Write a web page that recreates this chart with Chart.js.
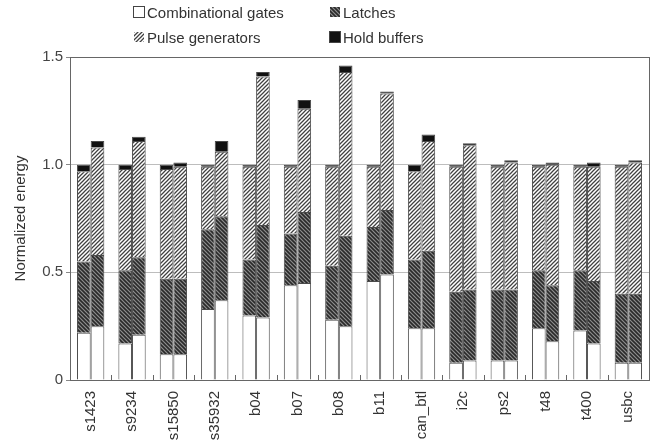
<!DOCTYPE html>
<html>
<head>
<meta charset="utf-8">
<script src="https://cdn.jsdelivr.net/npm/chart.js@4.4.1/dist/chart.umd.min.js"></script>
<style>
  body { margin: 0; background: #fff; }
  #wrap { position: relative; width: 670px; height: 445px; }
  #legend { position: absolute; left: 133px; top: 3px; width: 330px;
    display: grid; grid-template-columns: 196px 140px; row-gap: 7px;
    font-family: "Liberation Sans", Arial, sans-serif; font-size: 15px; color: #333; }
  #legend div { display: flex; align-items: center; height: 18px; }
  #legend span.sw { display: inline-block; width: 10px; height: 10px; border: 1px solid #444; margin-right: 2px; }
</style>
</head>
<body>
<div id="wrap">
  <canvas id="myChart" width="670" height="445"></canvas>
  <div id="legend"></div>
</div>
<script>
// benchmark circuits
const circuits = ['s1423', 's9234', 's15850', 's35932', 'b04', 'b07', 'b08', 'b11', 'can_btl', 'i2c', 'ps2', 't48', 't400', 'usbc'];

// left bar of each pair (segment heights)
const combLeft  = [0.22, 0.17, 0.12, 0.33, 0.30, 0.44, 0.28, 0.46, 0.24, 0.08, 0.09, 0.24, 0.23, 0.08];
const latchLeft = [0.33, 0.34, 0.35, 0.37, 0.26, 0.24, 0.25, 0.25, 0.32, 0.33, 0.33, 0.27, 0.28, 0.32];
const pulseLeft = [0.42, 0.47, 0.51, 0.29, 0.43, 0.31, 0.46, 0.28, 0.41, 0.58, 0.57, 0.48, 0.48, 0.59];
const holdLeft  = [0.03, 0.02, 0.02, 0.01, 0.01, 0.01, 0.01, 0.01, 0.03, 0.01, 0.01, 0.01, 0.01, 0.01];

// right bar of each pair
const combRight  = [0.25, 0.21, 0.12, 0.37, 0.29, 0.45, 0.25, 0.49, 0.24, 0.09, 0.09, 0.18, 0.17, 0.08];
const latchRight = [0.33, 0.36, 0.35, 0.39, 0.43, 0.33, 0.42, 0.30, 0.36, 0.33, 0.33, 0.26, 0.29, 0.32];
const pulseRight = [0.50, 0.54, 0.52, 0.30, 0.69, 0.48, 0.76, 0.54, 0.51, 0.67, 0.59, 0.56, 0.53, 0.61];
const holdRight  = [0.03, 0.02, 0.02, 0.05, 0.02, 0.04, 0.03, 0.01, 0.03, 0.01, 0.01, 0.01, 0.02, 0.01];

const legendNames = ['Combinational gates', 'Latches', 'Pulse generators', 'Hold buffers'];

function hatch(bg, fg, dir, lw) {
  const c = document.createElement('canvas');
  c.width = 4; c.height = 4;
  const x = c.getContext('2d');
  x.fillStyle = bg;
  x.fillRect(0, 0, 4, 4);
  x.strokeStyle = fg;
  x.lineWidth = lw;
  x.beginPath();
  if (dir === '/') {
    x.moveTo(-1, 1); x.lineTo(1, -1);
    x.moveTo(0, 4); x.lineTo(4, 0);
    x.moveTo(3, 5); x.lineTo(5, 3);
  } else {
    x.moveTo(-1, 3); x.lineTo(1, 5);
    x.moveTo(0, 0); x.lineTo(4, 4);
    x.moveTo(3, -1); x.lineTo(5, 1);
  }
  x.stroke();
  return c;
}

const ctx = document.getElementById('myChart').getContext('2d');
const latchCanvas = hatch('#8e8e8e', '#2a2a2a', '\\', 1.6);
const pulseCanvas = hatch('#ffffff', '#404040', '/', 1.25);
const latchFill = ctx.createPattern(latchCanvas, 'repeat');
const pulseFill = ctx.createPattern(pulseCanvas, 'repeat');
const fills = ['#ffffff', latchFill, pulseFill, '#111111'];

function ds(label, data, fill, stack) {
  return {
    label: label,
    data: data,
    backgroundColor: fill,
    borderColor: '#4a4a4a',
    borderWidth: 1,
    stack: stack,
    barPercentage: 1,
    categoryPercentage: 0.66
  };
}

// html legend
const lg = document.getElementById('legend');
[0, 1, 2, 3].forEach(i => {
  const d = document.createElement('div');
  const s = document.createElement('span');
  s.className = 'sw';
  if (i === 1) s.style.backgroundImage = 'url(' + latchCanvas.toDataURL() + ')';
  else if (i === 2) s.style.backgroundImage = 'url(' + pulseCanvas.toDataURL() + ')';
  else s.style.background = fills[i];
  if (i === 1 || i === 2) s.style.borderColor = '#fff';
  d.appendChild(s);
  d.appendChild(document.createTextNode(legendNames[i]));
  lg.appendChild(d);
});

// small inward ticks between circuit groups
const groupTicks = {
  id: 'groupTicks',
  afterDatasetsDraw(chart) {
    const xs = chart.scales.x;
    const c = chart.ctx;
    const b = chart.chartArea.bottom;
    c.save();
    c.strokeStyle = '#666';
    c.lineWidth = 1;
    for (let i = 1; i < circuits.length; i++) {
      const px = Math.round((xs.getPixelForTick(i - 1) + xs.getPixelForTick(i)) / 2) + 0.5;
      c.beginPath();
      c.moveTo(px, b);
      c.lineTo(px, b - 5);
      c.stroke();
    }
    c.restore();
  }
};

const myChart = new Chart(ctx, {
  type: 'bar',
  data: {
    labels: circuits,
    datasets: [
      ds(legendNames[0], combLeft, fills[0], 'L'),
      ds(legendNames[1], latchLeft, fills[1], 'L'),
      ds(legendNames[2], pulseLeft, fills[2], 'L'),
      ds(legendNames[3], holdLeft, fills[3], 'L'),
      ds(legendNames[0], combRight, fills[0], 'R'),
      ds(legendNames[1], latchRight, fills[1], 'R'),
      ds(legendNames[2], pulseRight, fills[2], 'R'),
      ds(legendNames[3], holdRight, fills[3], 'R')
    ]
  },
  options: {
    responsive: false,
    animation: false,
    layout: { padding: { top: 57, right: 21, left: 8, bottom: 0 } },
    plugins: { legend: { display: false }, tooltip: { enabled: false } },
    scales: {
      x: {
        stacked: true,
        grid: { display: false },
        border: { color: '#666' },
        ticks: {
          color: '#333',
          font: { family: 'Liberation Sans, Arial', size: 15 },
          maxRotation: 90, minRotation: 90,
          autoSkip: false
        },
        afterFit(s) { s.height = 65; }
      },
      y: {
        stacked: true,
        min: 0, max: 1.5,
        grid: { color: ctx2 => ctx2.tick.value === 0 || ctx2.tick.value === 1.5 ? 'rgba(0,0,0,0)' : '#bdbdbd', tickLength: 4, tickColor: '#888' },
        border: { color: '#666' },
        ticks: {
          stepSize: 0.5,
          color: '#444',
          font: { family: 'Liberation Sans, Arial', size: 15 },
          callback: v => v === 0 ? '0' : v.toFixed(1)
        },
        title: {
          display: true,
          text: 'Normalized energy',
          color: '#333',
          font: { family: 'Liberation Sans, Arial', size: 15 },
          padding: 4
        },
        afterFit(s) { s.width = 62; }
      }
    }
  },
  plugins: [groupTicks, {
    id: 'frame',
    afterDraw(chart) {
      const a = chart.chartArea;
      const c = chart.ctx;
      c.save();
      c.strokeStyle = '#666';
      c.lineWidth = 1;
      c.strokeRect(Math.round(a.left) + 0.5, Math.round(a.top) + 0.5, Math.round(a.right - a.left), Math.round(a.bottom - a.top));
      c.restore();
    }
  }]
});
</script>
</body>
</html>
